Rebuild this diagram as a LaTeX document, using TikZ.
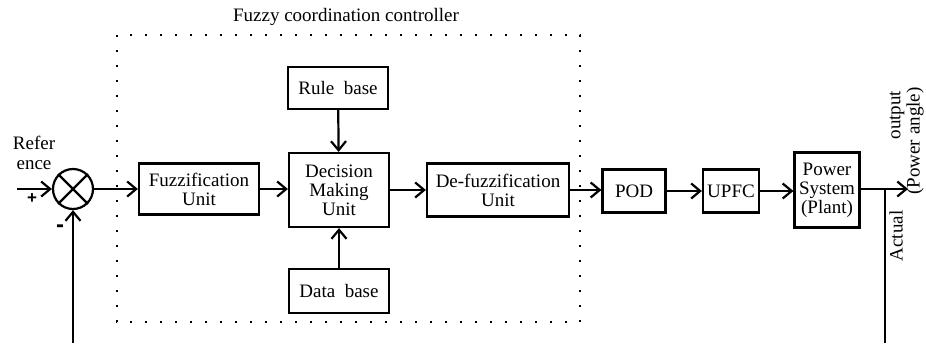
\documentclass[tikz,border=0pt]{standalone}
\usepackage{fontspec}
\setmainfont{Liberation Serif}
\setsansfont{Liberation Sans}
\usetikzlibrary{arrows.meta}
\tikzset{%
  blk/.style={draw,line width=1.1pt,align=center,inner sep=1pt,font=\fontsize{9.5}{9.5}\selectfont},
  sumdot/.style={draw,shape=circle,line width=1.1pt,minimum size=20pt,inner sep=0pt},
  sig/.style={draw,line width=1.1pt,-{Straight Barb[length=4.5pt,width=7.5pt,line width=1.1pt]}},
  wire/.style={draw,line width=1.1pt},
  ctrlbox/.style={draw,line width=1pt,dash pattern=on 1pt off 6.5pt},
  lbl/.style={font=\fontsize{9.5}{10}\selectfont,align=center,inner sep=0pt}
}

\begin{document}
\begin{tikzpicture}[x=0.5pt,y=-0.5pt]
      \useasboundingbox (0,0) rectangle (926,343);
      \path
        (73,189) node[sumdot] (sum){}
        (199,189) node[blk,minimum width=60pt,minimum height=25.5pt] (fuz){Fuzzification\\Unit}
        (339,190) node[blk,minimum width=50pt,minimum height=37pt] (dec){Decision\\Making\\Unit}
        (498,190) node[blk,minimum width=71pt,minimum height=26.5pt] (defuz){De-fuzzification\\Unit}
        (338,88) node[blk,minimum width=50pt,minimum height=21pt] (rule){Rule\ \ base}
        (339,291) node[blk,minimum width=50pt,minimum height=22pt] (data){Data\ \ base}
        (634,191) node[blk,minimum width=31.5pt,minimum height=21.5pt] (pod){POD}
        (731,191) node[blk,minimum width=28pt,minimum height=21.5pt] (upfc){UPFC}
        (827,190) node[blk,minimum width=32.5pt,minimum height=37.5pt] (plant){Power\\System\\(Plant)};
      \path
        (17,189) coordinate (ref)
        (908,189) coordinate (out)
        (885,189) coordinate (tap)
        (885,343) coordinate (fbR)
        (73,343) coordinate (fbL);
      \draw[ctrlbox] (117,35) rectangle (580,322);
      \path
        (346,17) node[lbl] (title){Fuzzy coordination controller}
        (34,153) node[lbl] (reflbl){Refer\\ence}
        (32,199) node[lbl,font=\sffamily\bfseries\fontsize{8.5}{8.5}\selectfont] (plus){+}
        (60,229) node[lbl,font=\sffamily\bfseries\fontsize{12}{12}\selectfont] (minus){-}
        (896,236) node[lbl,rotate=90] (act){Actual}
        (897,115) node[lbl,rotate=90] (outlbl){output}
        (915,141) node[lbl,rotate=90] (ang){(Power angle)};
      \draw[line width=1.1pt] (sum.north west) -- (sum.south east);
      \draw[line width=1.1pt] (sum.north east) -- (sum.south west);
      \draw[sig] (ref) -- (sum);
      \draw[sig] (sum) -- (sum -| fuz.west);
      \draw[sig] (fuz.east) -- (fuz.east -| dec.west);
      \draw[sig] (dec.east) -- (dec.east -| defuz.west);
      \draw[sig] (defuz.east) -- (defuz.east -| pod.west);
      \draw[sig] (pod) -- (upfc);
      \draw[sig] (upfc.east) -- (upfc.east -| plant.west);
      \draw[sig] (rule) -- (dec);
      \draw[sig] (data) -- (dec);
      \draw[sig] (plant.east |- out) -- (out);
      \draw[wire] (tap) -- (fbR);
      \draw[sig] (fbL) -- (sum);
    \end{tikzpicture}
\end{document}
